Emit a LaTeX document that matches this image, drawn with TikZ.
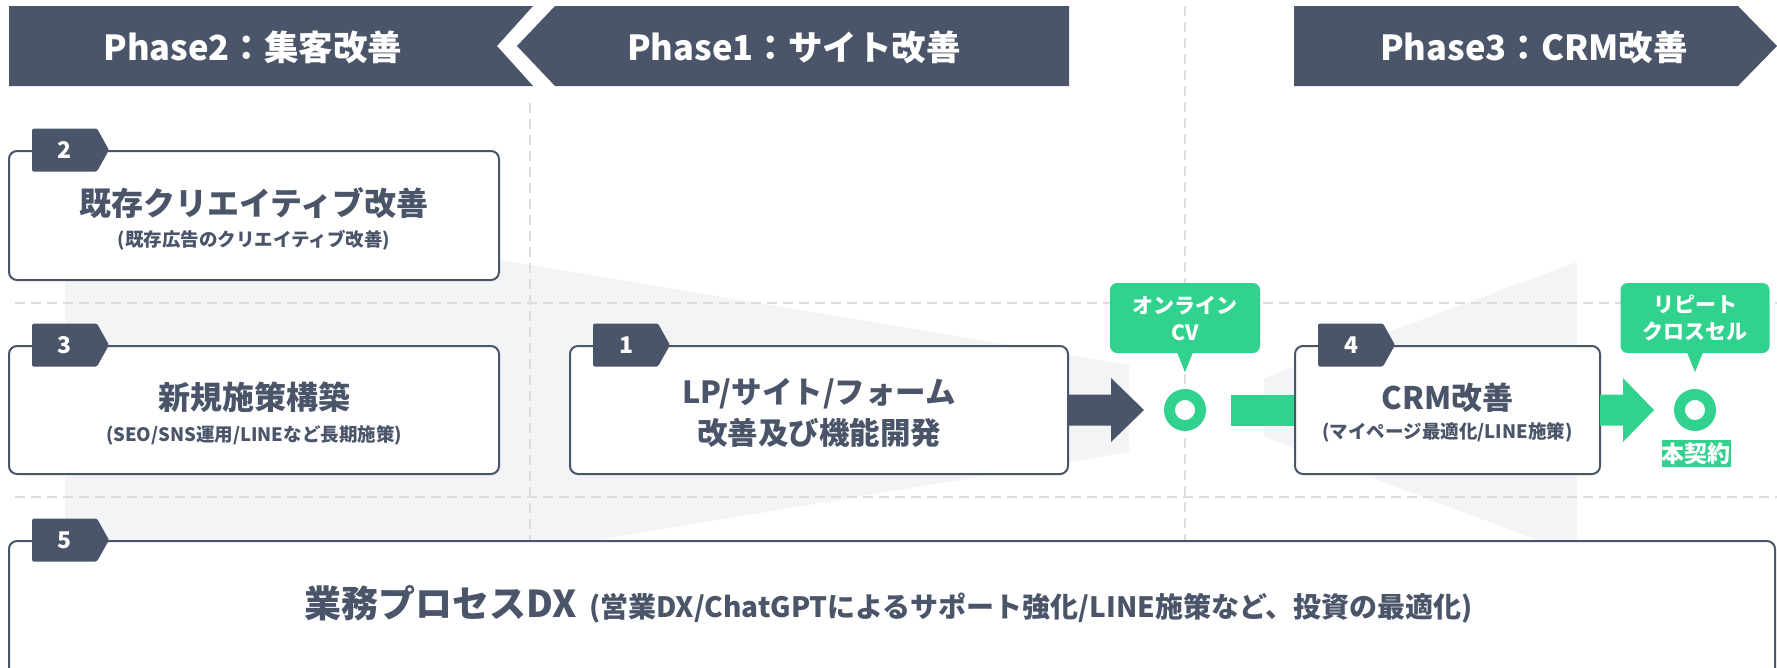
\documentclass[tikz,border=0pt]{standalone}
\usepackage{fontspec}
\setmainfont{Noto Sans CJK JP}
\usetikzlibrary{calc}
\definecolor{slate}{HTML}{4B5569}
\definecolor{mint}{HTML}{30D28E}
\definecolor{funnel}{HTML}{F3F4F6}
\definecolor{guide}{HTML}{DDDDDD}
\newcommand\numtag[3]{%
  \fill[slate, rounded corners=1.5pt] ($(#1)+(24,-21.5)$) -- ++(65,0) -- ++(12,21.5) -- ++(-12,21.5) -- ++(-65,0) -- cycle;
  \node[tagnum] (#3) at ($(#1)+(57,0)$) {#2};}
\newcommand\fatarrow[5]{% from, to, colour, head length, shaft start offset
  \fill[#3] ($(#1)+(#5,-15.5)$) -- ($(#2)+(-#4,-15.5)$) -- ($(#2)+(-#4,-32)$) -- (#2)
    -- ($(#2)+(-#4,32)$) -- ($(#2)+(-#4,15.5)$) -- ($(#1)+(#5,15.5)$) -- cycle;}
\begin{document}
\begin{tikzpicture}[x=1pt,y=-1pt,
  box/.style={draw=slate, line width=2pt, fill=white, rounded corners=8pt, inner sep=0pt},
  guideline/.style={draw=guide, line width=1.5pt, dash pattern=on 10pt off 6pt},
  hdr/.style={text=white, font=\fontsize{34.5}{40}\selectfont\bfseries},
  ttl/.style={text=slate, font=\fontsize{32}{38}\selectfont\bfseries},
  ttlsm/.style={text=slate, align=center, font=\fontsize{30.5}{41}\selectfont\bfseries},
  subt/.style={text=slate, font=\fontsize{18.5}{22}\selectfont\bfseries},
  tagnum/.style={text=white, font=\fontsize{23}{26}\selectfont\bfseries},
  ring/.style={circle, draw=mint, fill=white, line width=11pt, minimum size=31pt, inner sep=0pt},
  bubble/.style={fill=mint, rounded corners=7pt, text=white, align=center, minimum height=70pt,
    inner sep=0pt, font=\fontsize{21}{27}\selectfont\bfseries},
  badge/.style={fill=mint, text=white, inner sep=0pt, minimum width=68pt, minimum height=27pt,
    font=\fontsize{23}{26}\selectfont\bfseries}
]
\useasboundingbox (0,0) rectangle (1777,667);
\begin{scope}
\clip (0,0) rectangle (1777,667);
% background funnels
\fill[funnel] (65,187) -- (1129,365) -- (1129,452) -- (65,628) -- cycle;
\fill[funnel] (1264,378) -- (1577,262) -- (1577,555) -- (1264,437) -- cycle;
% guide lines
\draw[guideline] (15,303) -- (1777,303);
\draw[guideline] (15,497) -- (1777,497);
\draw[guideline] (530,103) -- (530,667);
\draw[guideline] (1185,6) -- (1185,667);
% headers
\fill[slate] (9,6) -- (533,6) -- (497,46) -- (533,86) -- (9,86) -- cycle;
\fill[slate] (555,6) -- (1069,6) -- (1069,86) -- (555,86) -- (517,46) -- cycle;
\fill[slate] (1294,6) -- (1738,6) -- (1777,46) -- (1738,86) -- (1294,86) -- cycle;
\node[hdr] (h2) at (253,47) {Phase2：集客改善};
\node[hdr] (h1) at (794,47) {Phase1：サイト改善};
\node[hdr] (h3) at (1534,47) {Phase3：CRM改善};
% rings and callouts
\node[ring] (ring1) at (1185,410) {};
\node[ring] (ring2) at (1695,410) {};
\coordinate (t1) at ($(ring1.west)+(-20,0)$);
\coordinate (t2) at ($(ring2.west)+(-20,0)$);
\coordinate (g1) at ($(ring1.east)+(25,0)$);
\node[bubble, minimum width=150pt] (cv) at (1185,318) {オンライン\\CV};
\fill[mint] ($(cv.south)+(-8,-1)$) -- ($(cv.south)+(8,-1)$) -- ($(cv.south)+(0,19)$) -- cycle;
\node[bubble, minimum width=149pt] (rep) at (1695,318) {リピート\\クロスセル};
\fill[mint] ($(rep.south)+(-8,-1)$) -- ($(rep.south)+(8,-1)$) -- ($(rep.south)+(0,19)$) -- cycle;
\node[badge] (deal) at (1696,453.5) {本契約};
% green bar into box 4
\fill[mint] ($(g1)+(0,-15.5)$) rectangle (1296,425.5);
% boxes
\node[box, minimum width=490pt, minimum height=129pt] (b2) at (254,215.5) {};
\node[box, minimum width=490pt, minimum height=128pt] (b3) at (254,410) {};
\node[box, minimum width=498pt, minimum height=128pt] (b1) at (819,410) {};
\node[box, minimum width=305pt, minimum height=128pt] (b4) at (1447.5,410) {};
\node[box, minimum width=1766pt, minimum height=158pt] (b5) at (892,620) {};
% arrows
\fatarrow{b1.east}{t1}{slate}{33}{-1}
\fatarrow{b4.east}{t2}{mint}{31}{-1}
% tags
\numtag{b2.north west}{2}{tag2}
\numtag{b3.north west}{3}{tag3}
\numtag{b1.north west}{1}{tag1}
\numtag{b4.north west}{4}{tag4}
\numtag{b5.north west}{5}{tag5}
% texts
\node[ttl] (b2t) at (254,203) {既存クリエイティブ改善};
\node[subt] (b2s) at (254,240) {(既存広告のクリエイティブ改善)};
\node[ttl] (b3t) at (254,397) {新規施策構築};
\node[subt] (b3s) at (254,435) {(SEO/SNS運用/LINEなど長期施策)};
\node[ttlsm] (b1t) at (819,412.5) {LP/サイト/フォーム\\改善及び機能開発};
\node[ttl, font=\fontsize{31}{36}\selectfont\bfseries] (b4t) at (1447.5,398) {CRM改善};
\node[subt] (b4s) at (1447.5,432) {(マイページ最適化/LINE施策)};
\node[text=slate, font=\bfseries] (b5t) at (889,604) {{\fontsize{37}{42}\selectfont 業務プロセスDX}\hspace{12pt}{\fontsize{28}{32}\selectfont (営業DX/ChatGPTによるサポート強化/LINE施策など、投資の最適化)}};
\end{scope}
\end{tikzpicture}
\end{document}
